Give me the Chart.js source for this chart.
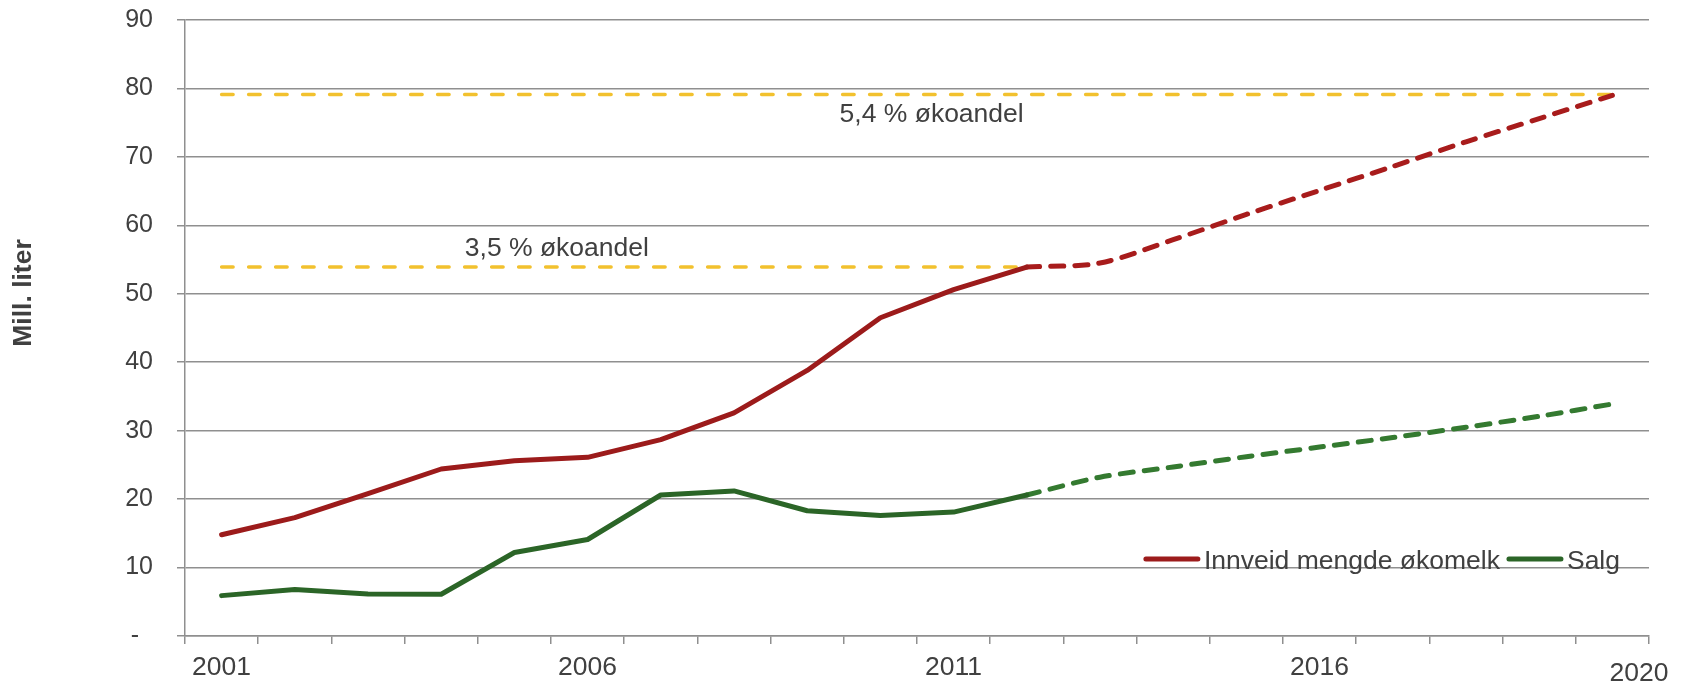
<!DOCTYPE html>
<html>
<head>
<meta charset="utf-8">
<script src="https://cdn.jsdelivr.net/npm/chart.js@4.4.1/dist/chart.umd.min.js"></script>
<style>
    html, body { margin: 0; padding: 0; background: #fff; }
    canvas { display: block; }
</style>
</head>
<body>
<canvas id="myChart" width="1686" height="684"></canvas>
<script>
// years on the x axis, only some of them get a label
var years = ['2001', '2002', '2003', '2004', '2005', '2006', '2007', '2008', '2009', '2010',
    '2011', '2012', '2013', '2014', '2015', '2016', '2017', '2018', '2019', '2020'];
var labeledYears = ['2001', '2006', '2011', '2016'];
var lastYearLabel = '2020';

// Mill. liter
var innveid = [14.8, 17.3, 20.8, 24.4, 25.6, 26.1, 28.7, 32.6, 38.8, 46.5, 50.6, 53.9,
    null, null, null, null, null, null, null, null];
var innveidPrognose = [null, null, null, null, null, null, null, null, null, null, null, 53.9,
    54.5, 57.9, 61.6, 65.1, 68.6, 72.2, 75.6, 79.0];
var salg = [5.9, 6.8, 6.15, 6.1, 12.2, 14.1, 20.6, 21.2, 18.3, 17.6, 18.1, 20.6,
    null, null, null, null, null, null, null, null];
var salgPrognose = [null, null, null, null, null, null, null, null, null, null, null, 20.6,
    23.2, 24.7, 26.2, 27.6, 29.0, 30.5, 32.1, 33.9];
var andel35 = [53.9, 53.9, 53.9, 53.9, 53.9, 53.9, 53.9, 53.9, 53.9, 53.9, 53.9, 53.9,
    null, null, null, null, null, null, null, null];
var andel54 = [79.1, 79.1, 79.1, 79.1, 79.1, 79.1, 79.1, 79.1, 79.1, 79.1,
    79.1, 79.1, 79.1, 79.1, 79.1, 79.1, 79.1, 79.1, 79.1, 79.1];

var yTicks = [0, 10, 20, 30, 40, 50, 60, 70, 80, 90];

// text notes on the reference lines: category position and value of the baseline
var noteText = ['3,5 % økoandel', '5,4 % økoandel'];
var notePos = [4.58, 9.70];
var noteValue = [55.45, 75.1];

var legendText = ['Innveid mengde økomelk', 'Salg'];

var RED = '#9c1b1b';
var RED_DASH = '#a81c1c';
var GREEN = '#2b6527';
var GREEN_DASH = '#347a30';
var YELLOW = '#f2c12e';
var GRID = '#8f8f8f';
var TEXT = '#404040';
var FONT = '"Liberation Sans", Arial, sans-serif';

Chart.defaults.font.family = FONT;
Chart.defaults.font.size = 26.5;
Chart.defaults.color = TEXT;

// notes, legend, y title and the lonely "2020" label
var extras = {
    id: 'extras',
    afterDraw: function (chart) {
        var ctx = chart.ctx;
        var area = chart.chartArea;
        var x = chart.scales.x;
        var y = chart.scales.y;
        ctx.save();
        ctx.fillStyle = TEXT;
        ctx.font = '26.5px ' + FONT;

        ctx.textAlign = 'center';
        ctx.textBaseline = 'alphabetic';
        for (var i = 0; i < noteText.length; i++) {
            ctx.fillText(noteText[i], x.getPixelForValue(notePos[i]), y.getPixelForValue(noteValue[i]));
        }

        // last year label sits at the right end of the axis
        ctx.fillText(lastYearLabel, area.right - 10, x.top + 45);

        // legend, right aligned inside the plot
        var colors = [RED, GREEN];
        var sample = 56;
        var widths = legendText.map(function (t) { return ctx.measureText(t).width; });
        var total = 0;
        for (var k = 0; k < widths.length; k++) total += sample + 4 + widths[k] + (k < widths.length - 1 ? 7 : 0);
        var lx = area.right - 29 - total;
        var ly = y.getPixelForValue(10);
        ctx.textAlign = 'left';
        for (var j = 0; j < legendText.length; j++) {
            ctx.strokeStyle = colors[j];
            ctx.lineWidth = 5;
            ctx.lineCap = 'round';
            ctx.beginPath();
            ctx.moveTo(lx + 2, ly - 8.5);
            ctx.lineTo(lx + sample - 2, ly - 8.5);
            ctx.stroke();
            ctx.fillText(legendText[j], lx + sample + 4, ly + 1);
            lx += sample + 4 + widths[j] + 7;
        }

        // y axis title
        ctx.font = 'bold 26.5px ' + FONT;
        ctx.translate(24, (area.top + area.bottom) / 2 - 35);
        ctx.rotate(-Math.PI / 2);
        ctx.textAlign = 'center';
        ctx.textBaseline = 'middle';
        ctx.fillText('Mill. liter', 0, 0);
        ctx.restore();
    }
};

var lineStyle = function (label, data, color, width, dash, tension) {
    return {
        label: label,
        data: data,
        borderColor: color,
        backgroundColor: color,
        borderWidth: width,
        borderDash: dash,
        borderCapStyle: 'round',
        borderJoinStyle: 'round',
        pointRadius: 0,
        tension: tension,
        spanGaps: false,
        fill: false
    };
};

// fixed axis sizes, no label overhang padding
var fixSize = function (w, h) {
    return function (axis) {
        if (w) axis.width = w;
        if (h) axis.height = h;
        axis.paddingTop = 0;
        axis.paddingBottom = 0;
        axis.paddingLeft = 0;
        axis.paddingRight = 0;
    };
};

const ctx = document.getElementById('myChart');
const myChart = new Chart(ctx, {
    type: 'line',
    data: {
        labels: years,
        datasets: [
            lineStyle(legendText[0], innveid, RED, 5, [], 0),
            lineStyle(legendText[0] + ' prognose', innveidPrognose, RED_DASH, 5, [13, 11], 0.3),
            lineStyle(legendText[1], salg, GREEN, 5, [], 0),
            lineStyle(legendText[1] + ' prognose', salgPrognose, GREEN_DASH, 5, [13, 11], 0.3),
            lineStyle(noteText[0], andel35, YELLOW, 3.5, [11.5, 15.5], 0),
            lineStyle(noteText[1], andel54, YELLOW, 3.5, [11.5, 15.5], 0)
        ]
    },
    options: {
        responsive: false,
        animation: false,
        devicePixelRatio: 1,
        layout: {
            autoPadding: false,
            padding: { left: 125, right: 37, top: 20, bottom: 0 }
        },
        plugins: {
            legend: { display: false },
            title: { display: false },
            tooltip: { enabled: false }
        },
        scales: {
            x: {
                offset: true,
                afterFit: fixSize(0, 48),
                grid: {
                    offset: true,
                    drawOnChartArea: false,
                    drawTicks: true,
                    tickLength: 8,
                    color: GRID,
                    lineWidth: 1.5
                },
                border: { color: GRID, width: 1.5 },
                ticks: {
                    autoSkip: false,
                    maxRotation: 0,
                    padding: 8,
                    callback: function (value, index) {
                        return labeledYears.indexOf(years[index]) >= 0 ? years[index] : '';
                    }
                }
            },
            y: {
                min: yTicks[0],
                max: yTicks[yTicks.length - 1],
                afterFit: fixSize(60, 0),
                afterBuildTicks: function (axis) {
                    axis.ticks = yTicks.map(function (v) { return { value: v }; });
                },
                grid: {
                    color: GRID,
                    lineWidth: 1.5,
                    tickLength: 8
                },
                border: { color: GRID, width: 1.5 },
                ticks: {
                    padding: 24,
                    font: { size: 25 },
                    callback: function (value) {
                        return value === 0 ? '-  ' : String(value);
                    }
                }
            }
        }
    },
    plugins: [extras]
});
</script>
</body>
</html>
